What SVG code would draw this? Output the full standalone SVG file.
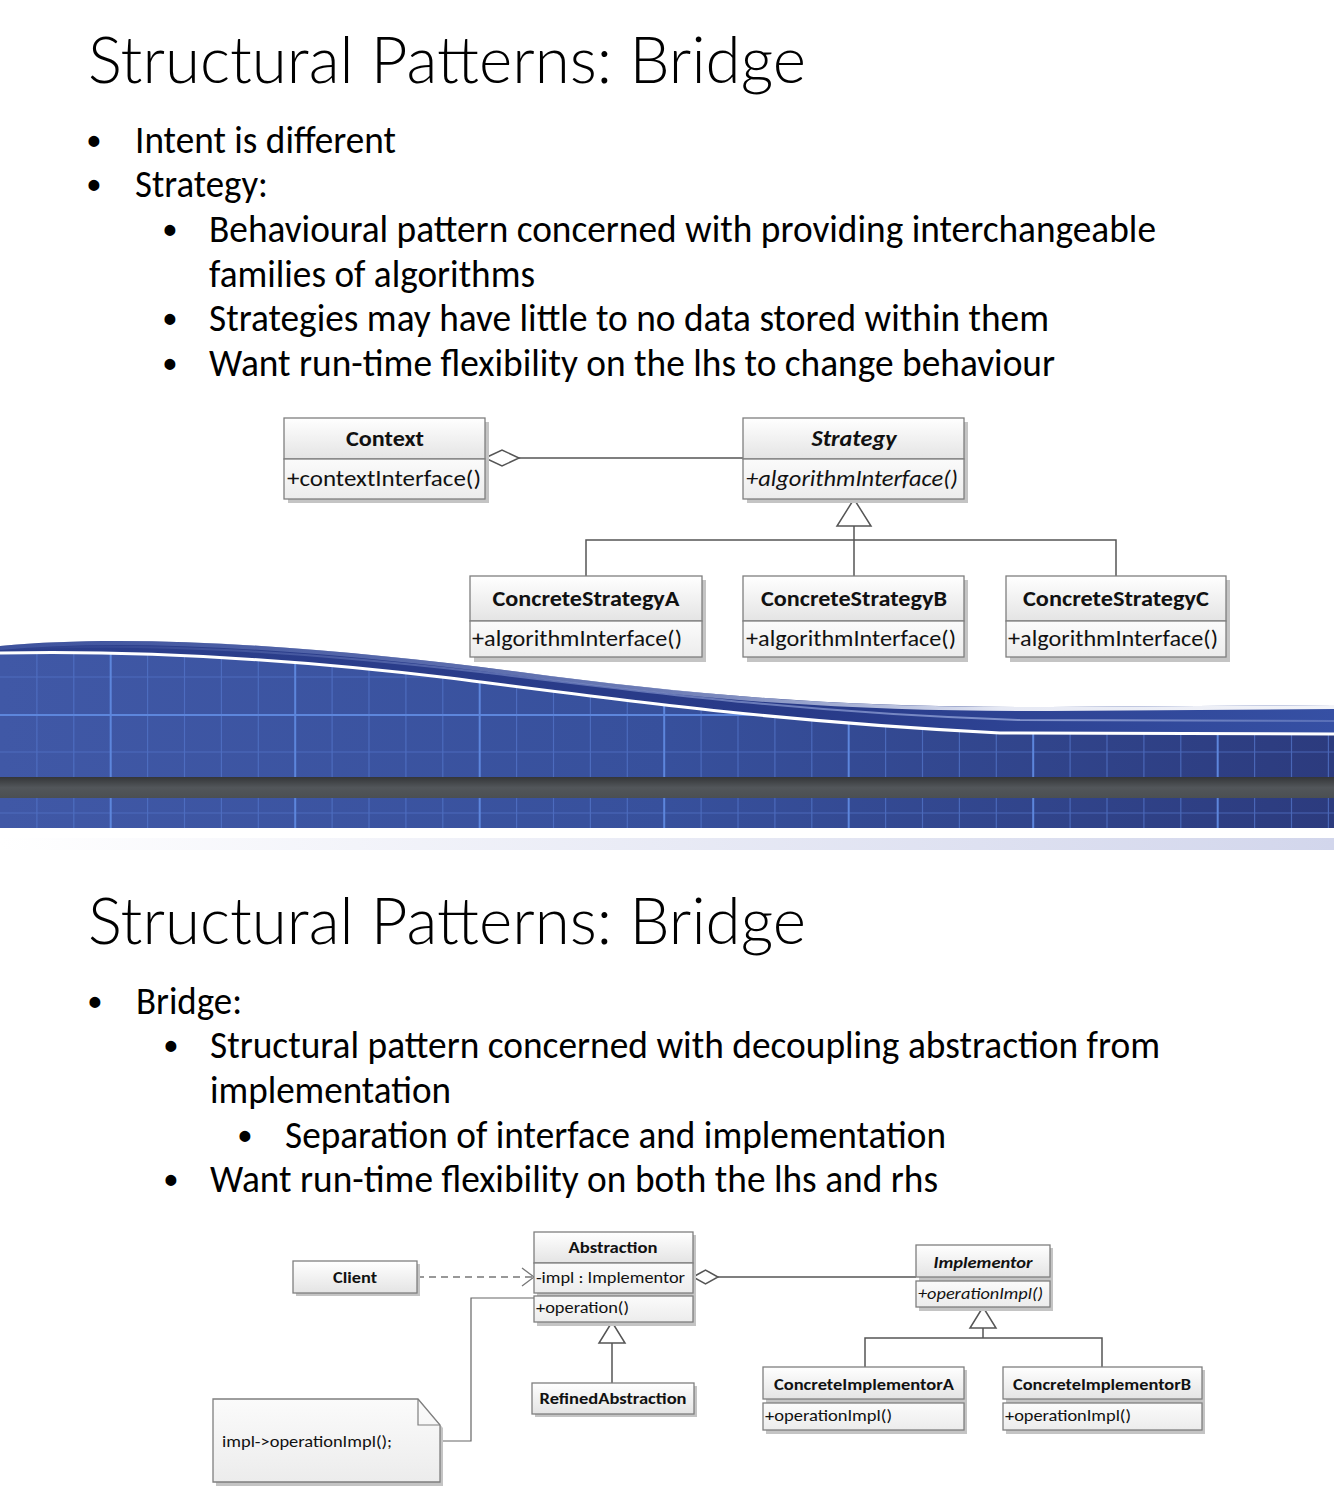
<svg xmlns="http://www.w3.org/2000/svg" width="1334" height="1493" viewBox="0 0 1334 1493">
<style>
.t{font-family:Carlito,Lato,"Open Sans","Liberation Sans",sans-serif;fill:#000}
.title{font-family:"Lato Light",Carlito,Lato,"Open Sans",sans-serif;font-size:66px;font-weight:300}
.body{font-size:38px}
.bul{font-family:"Liberation Sans",Arial,sans-serif;font-size:38px;font-weight:bold;fill:#000}
.u{font-family:Carlito,Lato,"Open Sans","Liberation Sans",sans-serif;fill:#111}
.ub{font-weight:bold}
.ui{font-style:italic}
.s1{font-size:22px}
.s2{font-size:16px}
.box{stroke:#7f7f7f;stroke-width:1.3}
.hdr{fill:url(#gh)}
.cmp{fill:url(#gc)}
.sh{fill:#c4c4c4}
.ln{fill:none;stroke:#555;stroke-width:1.5}
.tri{fill:#fff;stroke:#555;stroke-width:1.5}
</style>
<defs>
<linearGradient id="gh" x1="0" y1="0" x2="0" y2="1"><stop offset="0" stop-color="#ffffff"/><stop offset="1" stop-color="#e4e4e4"/></linearGradient>
<linearGradient id="gc" x1="0" y1="0" x2="0" y2="1"><stop offset="0" stop-color="#fbfbfb"/><stop offset="1" stop-color="#ececec"/></linearGradient>
<linearGradient id="gblue" x1="0" y1="0" x2="1" y2="0"><stop offset="0" stop-color="#4058a6"/><stop offset="0.5" stop-color="#37509c"/><stop offset="1" stop-color="#2c3b7e"/></linearGradient>
<linearGradient id="grib" x1="0" y1="0" x2="1" y2="0"><stop offset="0" stop-color="#2c3f8c"/><stop offset="0.6" stop-color="#283a88"/><stop offset="1" stop-color="#3650a4"/></linearGradient>
<linearGradient id="ghl" x1="0" y1="0" x2="1" y2="0"><stop offset="0" stop-color="#5a70b8" stop-opacity="0.4"/><stop offset="0.5" stop-color="#9aa8d4" stop-opacity="0.6"/><stop offset="0.75" stop-color="#e6e9f4"/><stop offset="1" stop-color="#f2f3f8"/></linearGradient>
<linearGradient id="gmid" x1="0" y1="0" x2="1" y2="0"><stop offset="0" stop-color="#8fa0d8" stop-opacity="0"/><stop offset="0.4" stop-color="#8fa0d8" stop-opacity="0.5"/><stop offset="0.8" stop-color="#a9b8e6" stop-opacity="0.7"/><stop offset="1" stop-color="#a9b8e6" stop-opacity="0.3"/></linearGradient>
<linearGradient id="gbar" x1="0" y1="0" x2="0" y2="1"><stop offset="0" stop-color="#343638"/><stop offset="0.5" stop-color="#52565a"/><stop offset="1" stop-color="#4b4f52"/></linearGradient>
<linearGradient id="gband" x1="0" y1="0" x2="1" y2="0"><stop offset="0" stop-color="#ffffff"/><stop offset="1" stop-color="#d2d6ec"/></linearGradient>
<clipPath id="cblue"><path d="M0,653 C150,650 300,660 450,678 C620,700 780,722 1000,733 L1334,734 L1334,828 L0,828 Z"/></clipPath>
</defs>
<rect width="1334" height="1493" fill="#fff"/>

<g id="banner">
<path d="M0,653 C150,650 300,660 450,678 C620,700 780,722 1000,733 L1334,734 L1334,828 L0,828 Z" fill="url(#gblue)"/>
<g clip-path="url(#cblue)" fill="none">
<path stroke="#5374c8" stroke-width="1.2" stroke-opacity="0.75" d="M36.9,630V830M73.8,630V830M147.6,630V830M184.5,630V830M221.4,630V830M258.3,630V830M332.1,630V830M369,630V830M405.9,630V830M442.8,630V830M516.6,630V830M553.5,630V830M590.4,630V830M627.3,630V830M701.1,630V830M738,630V830M774.9,630V830M811.8,630V830M885.6,630V830M922.5,630V830M959.4,630V830M996.3,630V830M1070.1,630V830M1107,630V830M1143.9,630V830M1180.8,630V830M1254.6,630V830M1291.5,630V830M1328.4,630V830M0,677H1334M0,752H1334M0,813H1334"/>
<path stroke="#5d86dc" stroke-width="2" d="M110.7,630V830M295.2,630V830M479.7,630V830M664.2,630V830M848.7,630V830M1033.2,630V830M1217.7,630V830M0,715H1334"/>
</g>
<path d="M0,646 C150,632 350,650 520,672 C700,696 850,708 1050,707 L1334,705 L1334,734 L1000,733 C780,722 620,700 450,678 C300,660 150,650 0,653 Z" fill="url(#grib)"/>
<path d="M0,650 C150,640 320,654 480,672 C660,694 820,714 1020,720 L1334,721" fill="none" stroke="url(#gmid)" stroke-width="2"/>
<path d="M0,648 C150,634 350,652 520,674 C700,698 850,710 1050,709 L1334,707" fill="none" stroke="url(#ghl)" stroke-width="4"/>
<path d="M0,653 C150,650 300,660 450,678 C620,700 780,722 1000,733 L1334,734" fill="none" stroke="#ffffff" stroke-width="3"/>
<rect x="0" y="777" width="1334" height="21" fill="url(#gbar)"/>
<rect x="0" y="838" width="1334" height="12" fill="url(#gband)"/>
</g>

<g id="slide1-text">
<text class="t title" x="88" y="83" textLength="718" lengthAdjust="spacingAndGlyphs">Structural Patterns: Bridge</text>
<text class="bul" x="94" y="154" text-anchor="middle">•</text>
<text class="t body" x="135" y="153" textLength="261" lengthAdjust="spacingAndGlyphs">Intent is different</text>
<text class="bul" x="94" y="198" text-anchor="middle">•</text>
<text class="t body" x="135" y="197" textLength="133" lengthAdjust="spacingAndGlyphs">Strategy:</text>
<text class="bul" x="170" y="243" text-anchor="middle">•</text>
<text class="t body" x="209" y="242" textLength="947" lengthAdjust="spacingAndGlyphs">Behavioural pattern concerned with providing interchangeable</text>
<text class="t body" x="209" y="287" textLength="326" lengthAdjust="spacingAndGlyphs">families of algorithms</text>
<text class="bul" x="170" y="332" text-anchor="middle">•</text>
<text class="t body" x="209" y="331" textLength="840" lengthAdjust="spacingAndGlyphs">Strategies may have little to no data stored within them</text>
<text class="bul" x="170" y="377" text-anchor="middle">•</text>
<text class="t body" x="209" y="376" textLength="846" lengthAdjust="spacingAndGlyphs">Want run-time flexibility on the lhs to change behaviour</text>
</g>

<g id="slide2-text">
<text class="t title" x="88" y="944" textLength="718" lengthAdjust="spacingAndGlyphs">Structural Patterns: Bridge</text>
<text class="bul" x="95" y="1015" text-anchor="middle">•</text>
<text class="t body" x="136" y="1014" textLength="106" lengthAdjust="spacingAndGlyphs">Bridge:</text>
<text class="bul" x="171" y="1059" text-anchor="middle">•</text>
<text class="t body" x="210" y="1058" textLength="950" lengthAdjust="spacingAndGlyphs">Structural pattern concerned with decoupling abstraction from</text>
<text class="t body" x="210" y="1103" textLength="241" lengthAdjust="spacingAndGlyphs">implementation</text>
<text class="bul" x="245" y="1149" text-anchor="middle">•</text>
<text class="t body" x="285" y="1148" textLength="661" lengthAdjust="spacingAndGlyphs">Separation of interface and implementation</text>
<text class="bul" x="171" y="1193" text-anchor="middle">•</text>
<text class="t body" x="210" y="1192" textLength="728" lengthAdjust="spacingAndGlyphs">Want run-time flexibility on both the lhs and rhs</text>
</g>

<g id="connectors">
<line class="ln" x1="519" y1="458" x2="743" y2="458"/>
<polygon class="tri" points="485,458 502,450 519,458 502,466"/>
<polyline class="ln" points="854,526 854,540"/>
<polyline class="ln" points="586,576 586,540 1116,540 1116,576"/>
<line class="ln" x1="854" y1="540" x2="854" y2="576"/>
<polygon class="tri" points="854,499 837,526 871,526"/>

<line x1="417" y1="1277" x2="533" y2="1277" stroke="#777" stroke-width="1.3" stroke-dasharray="7,5"/>
<polyline points="522,1268 534,1277 522,1286" fill="none" stroke="#777" stroke-width="1.3"/>
<line class="ln" x1="718" y1="1277" x2="916" y2="1277"/>
<polygon class="tri" points="693,1277 705.5,1270 718,1277 705.5,1284"/>
<line class="ln" x1="612" y1="1343" x2="612" y2="1383"/>
<polygon class="tri" points="612,1322 599,1343 625,1343"/>
<polyline class="ln" points="983,1328 983,1338"/>
<polyline class="ln" points="865,1367 865,1338 1102,1338 1102,1367"/>
<polygon class="tri" points="983,1307 970,1328 996,1328"/>
<polyline points="440,1441 471,1441 471,1298 534,1298" fill="none" stroke="#666" stroke-width="1.2"/>
</g>

<g id="Context">
<rect class="sh" x="288" y="422" width="201" height="81"/>
<rect class="box hdr" x="284" y="418" width="201" height="41"/>
<rect class="box cmp" x="284" y="459" width="201" height="40"/>
<text class="u ub s1" x="385" y="446" text-anchor="middle" textLength="78" lengthAdjust="spacingAndGlyphs">Context</text>
<text class="u s1" x="287" y="486" textLength="194" lengthAdjust="spacingAndGlyphs">+contextInterface()</text>
</g>
<g id="Strategy">
<rect class="sh" x="747" y="422" width="221" height="81"/>
<rect class="box hdr" x="743" y="418" width="221" height="41"/>
<rect class="box cmp" x="743" y="459" width="221" height="40"/>
<text class="u ub ui s1" x="854" y="446" text-anchor="middle" textLength="85" lengthAdjust="spacingAndGlyphs">Strategy</text>
<text class="u ui s1" x="746" y="486" textLength="212" lengthAdjust="spacingAndGlyphs">+algorithmInterface()</text>
</g>
<g id="ConcreteStrategyA">
<rect class="sh" x="474" y="580" width="232" height="82"/>
<rect class="box hdr" x="470" y="576" width="232" height="45"/>
<rect class="box cmp" x="470" y="621" width="232" height="36"/>
<text class="u ub s1" x="586" y="606" text-anchor="middle" textLength="187" lengthAdjust="spacingAndGlyphs">ConcreteStrategyA</text>
<text class="u s1" x="472" y="646" textLength="210" lengthAdjust="spacingAndGlyphs">+algorithmInterface()</text>
</g>
<g id="ConcreteStrategyB">
<rect class="sh" x="747" y="580" width="221" height="82"/>
<rect class="box hdr" x="743" y="576" width="221" height="45"/>
<rect class="box cmp" x="743" y="621" width="221" height="36"/>
<text class="u ub s1" x="854" y="606" text-anchor="middle" textLength="186" lengthAdjust="spacingAndGlyphs">ConcreteStrategyB</text>
<text class="u s1" x="746" y="646" textLength="210" lengthAdjust="spacingAndGlyphs">+algorithmInterface()</text>
</g>
<g id="ConcreteStrategyC">
<rect class="sh" x="1010" y="580" width="220" height="82"/>
<rect class="box hdr" x="1006" y="576" width="220" height="45"/>
<rect class="box cmp" x="1006" y="621" width="220" height="36"/>
<text class="u ub s1" x="1116" y="606" text-anchor="middle" textLength="186" lengthAdjust="spacingAndGlyphs">ConcreteStrategyC</text>
<text class="u s1" x="1008" y="646" textLength="210" lengthAdjust="spacingAndGlyphs">+algorithmInterface()</text>
</g>

<g id="Client">
<rect class="sh" x="296" y="1264" width="124" height="32"/>
<rect class="box hdr" x="293" y="1261" width="124" height="32"/>
<text class="u ub s2" x="355" y="1283" text-anchor="middle" textLength="44" lengthAdjust="spacingAndGlyphs">Client</text>
</g>
<g id="Abstraction">
<rect class="sh" x="537" y="1235" width="159" height="91"/>
<rect class="box hdr" x="534" y="1232" width="159" height="31"/>
<rect class="box cmp" x="534" y="1263" width="159" height="30"/>
<rect class="box cmp" x="534" y="1296" width="159" height="26"/>
<text class="u ub s2" x="613" y="1253" text-anchor="middle" textLength="89" lengthAdjust="spacingAndGlyphs">Abstraction</text>
<text class="u s2" x="536" y="1283" textLength="149" lengthAdjust="spacingAndGlyphs">-impl : Implementor</text>
<text class="u s2" x="536" y="1313" textLength="93" lengthAdjust="spacingAndGlyphs">+operation()</text>
</g>
<g id="RefinedAbstraction">
<rect class="sh" x="535" y="1386" width="162" height="31"/>
<rect class="box hdr" x="532" y="1383" width="162" height="31"/>
<text class="u ub s2" x="613" y="1404" text-anchor="middle" textLength="147" lengthAdjust="spacingAndGlyphs">RefinedAbstraction</text>
</g>
<g id="Note">
<path class="sh" d="M216,1402 L421,1402 L443,1428 L443,1486 L216,1486 Z"/>
<path class="box cmp" d="M213,1399 L418,1399 L440,1425 L440,1482 L213,1482 Z"/>
<path d="M418,1399 L418,1425 L440,1425" fill="none" stroke="#7f7f7f" stroke-width="1.2"/>
<text class="u s2" x="222" y="1447" textLength="170" lengthAdjust="spacingAndGlyphs">impl-&gt;operationImpl();</text>
</g>
<g id="Implementor">
<rect class="sh" x="919" y="1248" width="134" height="63"/>
<rect class="box hdr" x="916" y="1245" width="134" height="32"/>
<rect class="box cmp" x="916" y="1281" width="134" height="26"/>
<text class="u ub ui s2" x="983" y="1268" text-anchor="middle" textLength="99" lengthAdjust="spacingAndGlyphs">Implementor</text>
<text class="u ui s2" x="918" y="1299" textLength="125" lengthAdjust="spacingAndGlyphs">+operationImpl()</text>
</g>
<g id="ConcreteImplementorA">
<rect class="sh" x="766" y="1370" width="201" height="64"/>
<rect class="box hdr" x="763" y="1367" width="201" height="32"/>
<rect class="box cmp" x="763" y="1403" width="201" height="27"/>
<text class="u ub s2" x="864" y="1390" text-anchor="middle" textLength="180" lengthAdjust="spacingAndGlyphs">ConcreteImplementorA</text>
<text class="u s2" x="765" y="1421" textLength="127" lengthAdjust="spacingAndGlyphs">+operationImpl()</text>
</g>
<g id="ConcreteImplementorB">
<rect class="sh" x="1006" y="1370" width="199" height="64"/>
<rect class="box hdr" x="1003" y="1367" width="199" height="32"/>
<rect class="box cmp" x="1003" y="1403" width="199" height="27"/>
<text class="u ub s2" x="1102" y="1390" text-anchor="middle" textLength="178" lengthAdjust="spacingAndGlyphs">ConcreteImplementorB</text>
<text class="u s2" x="1005" y="1421" textLength="126" lengthAdjust="spacingAndGlyphs">+operationImpl()</text>
</g>
</svg>
